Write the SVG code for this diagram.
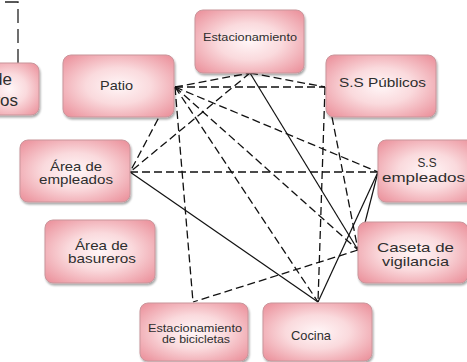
<svg xmlns="http://www.w3.org/2000/svg" width="467" height="362" viewBox="0 0 467 362">
<defs>
<radialGradient id="pink" cx="50%" cy="50%" r="65%">
<stop offset="0" stop-color="#fff6f7"/>
<stop offset="0.45" stop-color="#fadadd"/>
<stop offset="1" stop-color="#ec96a0"/>
</radialGradient>
<filter id="sh" x="-10%" y="-10%" width="125%" height="125%">
<feGaussianBlur in="SourceAlpha" stdDeviation="1.2"/>
<feOffset dx="1" dy="1.5" result="b"/>
<feComponentTransfer><feFuncA type="linear" slope="0.35"/></feComponentTransfer>
<feMerge><feMergeNode/><feMergeNode in="SourceGraphic"/></feMerge>
</filter>
</defs>
<style>
.box{fill:url(#pink);stroke:#c9959b;stroke-width:1;filter:url(#sh)}
.t{font-family:"Liberation Sans",Arial,sans-serif;fill:#2e2e2e;text-anchor:middle}
.d{fill:none;stroke:#111;stroke-width:1.3;stroke-dasharray:8 4}
.s{fill:none;stroke:#111;stroke-width:1.2}
.d2{fill:none;stroke:#222;stroke-width:1.3;stroke-dasharray:14 6}
</style>
<rect width="467" height="362" fill="#fff"/>

<g id="partial">
<polyline class="d2" points="18,63 18,2 0,2"/>
<rect class="box" x="-20" y="63" width="59" height="52" rx="8"/>
<text class="t" style="text-anchor:end" x="12" y="85" font-size="17">de</text>
<text class="t" style="text-anchor:end" x="18" y="106" font-size="17">ros</text>
</g>

<g id="connectors">
<line class="d" x1="175" y1="87" x2="250" y2="73"/>
<line class="d" x1="175" y1="87" x2="325" y2="87"/>
<line class="d" x1="175" y1="87" x2="130" y2="172"/>
<line class="d" x1="175" y1="87" x2="378" y2="172"/>
<line class="d" x1="175" y1="87" x2="358" y2="250"/>
<line class="d" x1="175" y1="87" x2="318" y2="302"/>
<line class="d" x1="175" y1="87" x2="193" y2="302"/>
<line class="d" x1="250" y1="73" x2="130" y2="172"/>
<line class="d" x1="250" y1="73" x2="325" y2="87"/>
<line class="d" x1="130" y1="172" x2="378" y2="172"/>
<line class="d" x1="325" y1="87" x2="318" y2="302"/>
<line class="d" x1="332" y1="117" x2="358" y2="250"/>
<line class="d" x1="358" y1="250" x2="193" y2="302"/>
<line class="s" x1="250" y1="73" x2="358" y2="250"/>
<line class="s" x1="130" y1="172" x2="318" y2="302"/>
<line class="s" x1="378" y1="172" x2="318" y2="302"/>
<line class="s" x1="378" y1="172" x2="358" y2="250"/>
</g>

<g id="estacionamiento">
<rect class="box" x="195" y="10" width="109" height="63" rx="8"/>
<text class="t" x="250" y="41" font-size="11.5" textLength="94" lengthAdjust="spacingAndGlyphs">Estacionamiento</text>
</g>
<g id="patio">
<rect class="box" x="63" y="55" width="111" height="62" rx="8"/>
<text class="t" x="116.5" y="90" font-size="13.5" textLength="33" lengthAdjust="spacingAndGlyphs">Patio</text>
</g>
<g id="ss-publicos">
<rect class="box" x="326" y="55" width="110" height="62" rx="8"/>
<text class="t" x="382.5" y="87" font-size="13.5" textLength="87" lengthAdjust="spacingAndGlyphs">S.S Públicos</text>
</g>
<g id="ss-empleados">
<rect class="box" x="378" y="140" width="100" height="62" rx="8"/>
<text class="t" x="427" y="167" font-size="13.5" textLength="19" lengthAdjust="spacingAndGlyphs">S.S</text>
<text class="t" x="423.5" y="181.5" font-size="13.5" textLength="83" lengthAdjust="spacingAndGlyphs">empleados</text>
</g>
<g id="area-empleados">
<rect class="box" x="20" y="140" width="110" height="62" rx="8"/>
<text class="t" x="76" y="170.5" font-size="13.5" textLength="52" lengthAdjust="spacingAndGlyphs">Área de</text>
<text class="t" x="76" y="184" font-size="13.5" textLength="74" lengthAdjust="spacingAndGlyphs">empleados</text>
</g>
<g id="caseta">
<rect class="box" x="358" y="222" width="110" height="61" rx="8"/>
<text class="t" x="415.5" y="251.5" font-size="13.5" textLength="77" lengthAdjust="spacingAndGlyphs">Caseta de</text>
<text class="t" x="415.5" y="265.5" font-size="13.5" textLength="67" lengthAdjust="spacingAndGlyphs">vigilancia</text>
</g>
<g id="area-basureros">
<rect class="box" x="45" y="220" width="110" height="63" rx="8"/>
<text class="t" x="101.5" y="249.5" font-size="13.5" textLength="53" lengthAdjust="spacingAndGlyphs">Área de</text>
<text class="t" x="102" y="263" font-size="13.5" textLength="68" lengthAdjust="spacingAndGlyphs">basureros</text>
</g>
<g id="bicicletas">
<rect class="box" x="140" y="303" width="108" height="58" rx="8"/>
<text class="t" x="195" y="331.5" font-size="11" textLength="94" lengthAdjust="spacingAndGlyphs">Estacionamiento</text>
<text class="t" x="196" y="343" font-size="11" textLength="68" lengthAdjust="spacingAndGlyphs">de bicicletas</text>
</g>
<g id="cocina">
<rect class="box" x="263" y="303" width="109" height="58" rx="8"/>
<text class="t" x="311" y="339.5" font-size="13.5" textLength="40" lengthAdjust="spacingAndGlyphs">Cocina</text>
</g>
</svg>
